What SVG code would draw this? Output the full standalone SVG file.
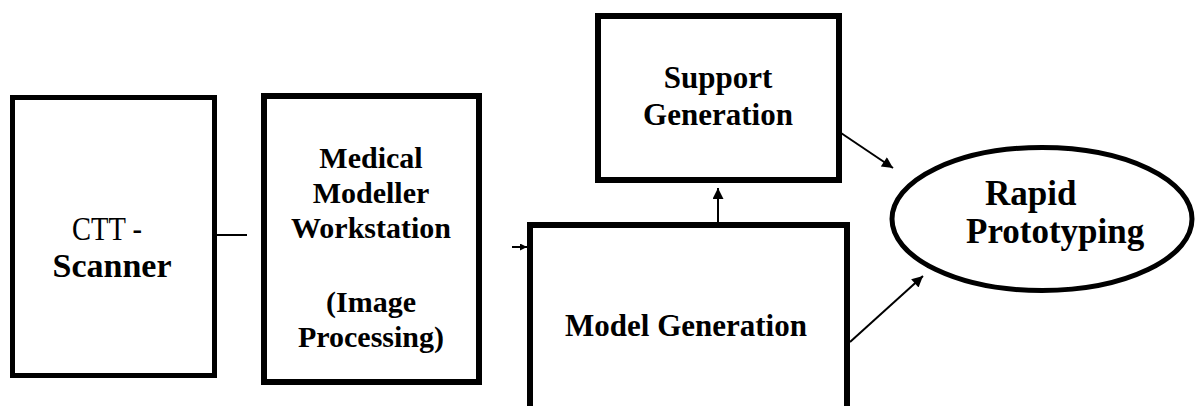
<svg xmlns="http://www.w3.org/2000/svg" width="1196" height="406" viewBox="0 0 1196 406">
<style>
.box{fill:#fff;stroke:#000;stroke-width:6}
.lbl{font-family:"Liberation Serif","Times New Roman",serif;font-weight:bold;fill:#000;text-anchor:middle}
.reg{font-family:"Liberation Serif","Times New Roman",serif;font-weight:normal;fill:#000}
.con{stroke:#000;stroke-width:2;fill:none}
</style>
<defs>
<marker id="ah" viewBox="0 0 10 10" refX="10" refY="5" markerWidth="13" markerHeight="11" markerUnits="userSpaceOnUse" orient="auto">
<path d="M0,0 L10,5 L0,10 Z" fill="#000"/>
</marker>
<marker id="ahs" viewBox="0 0 10 10" refX="10" refY="5" markerWidth="8" markerHeight="7" markerUnits="userSpaceOnUse" orient="auto">
<path d="M0,0 L10,5 L0,10 Z" fill="#000"/>
</marker>
</defs>
<rect width="1196" height="406" fill="#fff"/>

<g id="ct-scanner">
<rect class="box" x="12.5" y="97.5" width="202" height="278" style="stroke-width:5"/>
<text class="reg" x="72" y="240" font-size="34" textLength="70" lengthAdjust="spacingAndGlyphs">CTT -</text>
<text class="lbl" x="112" y="277" font-size="34">Scanner</text>
</g>

<g id="medical-modeller">
<rect class="box" x="264" y="96" width="215" height="286"/>
<text class="lbl" x="371" y="168" font-size="30">Medical</text>
<text class="lbl" x="371" y="203" font-size="30">Modeller</text>
<text class="lbl" x="371" y="238" font-size="30">Workstation</text>
<text class="lbl" x="371" y="312" font-size="30">(Image</text>
<text class="lbl" x="371" y="347" font-size="30">Processing)</text>
</g>

<g id="support-generation">
<rect class="box" x="598" y="16" width="241" height="164"/>
<text class="lbl" x="718" y="88" font-size="31">Support</text>
<text class="lbl" x="718" y="125" font-size="31">Generation</text>
</g>

<g id="model-generation">
<rect class="box" x="530" y="225" width="317" height="200"/>
<text class="lbl" x="686" y="336" font-size="31">Model Generation</text>
</g>

<g id="rapid-prototyping">
<ellipse cx="1042" cy="219" rx="150" ry="71.5" fill="#fff" stroke="#000" stroke-width="5"/>
<text class="lbl" x="985" y="205" font-size="35" style="text-anchor:start">Rapid</text>
<text class="lbl" x="966" y="243" font-size="35" style="text-anchor:start">Prototyping</text>
</g>

<g id="connectors">
<line class="con" x1="217" y1="235" x2="247" y2="235"/>
<line class="con" x1="512" y1="247" x2="527" y2="247" marker-end="url(#ahs)"/>
<line class="con" x1="718" y1="222" x2="718" y2="188" marker-end="url(#ah)"/>
<line class="con" x1="841" y1="133" x2="893" y2="168" marker-end="url(#ah)"/>
<line class="con" x1="850" y1="342" x2="923" y2="276" marker-end="url(#ah)"/>
</g>
</svg>
